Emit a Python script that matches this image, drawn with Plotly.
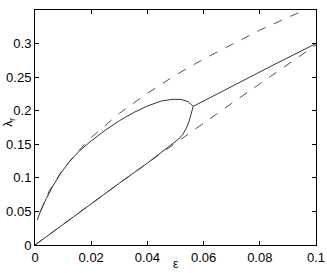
import plotly.graph_objects as go

# upper solid branch (to the junction)
up_x = [0.0008, 0.002, 0.004, 0.006, 0.009, 0.012, 0.016, 0.02, 0.025, 0.03,
        0.035, 0.04, 0.045, 0.049, 0.052, 0.0545, 0.0563]
up_y = [0.037, 0.051, 0.069, 0.085, 0.106, 0.123, 0.141, 0.155, 0.171, 0.185,
        0.197, 0.207, 0.2145, 0.217, 0.2168, 0.2135, 0.2065]

# lower solid branch (to the junction)
lo_x = [0.0, 0.01, 0.02, 0.03, 0.04, 0.043, 0.046, 0.049, 0.051, 0.0525,
        0.0538, 0.0548, 0.0556, 0.0563]
lo_y = [0.0, 0.031, 0.061, 0.092, 0.122, 0.1315, 0.141, 0.1505, 0.1575, 0.164,
        0.1735, 0.1835, 0.195, 0.2065]

# merged solid branch
mg_x = [0.0563, 0.0694, 0.085, 0.1]
mg_y = [0.2065, 0.2352, 0.2685, 0.300]

# dashed bounds
dash_up_x = [0.002, 0.005, 0.01, 0.015, 0.02, 0.03, 0.04, 0.05, 0.06, 0.07, 0.08, 0.09, 0.1]
dash_up_y = [0.0505, 0.080, 0.113, 0.138, 0.160, 0.196, 0.226, 0.253, 0.277, 0.299, 0.320, 0.339, 0.357]
dash_lo_x = [0.0, 0.01, 0.02, 0.03, 0.04, 0.05, 0.06, 0.07, 0.08, 0.09, 0.1]
dash_lo_y = [0.0, 0.031, 0.062, 0.092, 0.122, 0.152, 0.181, 0.211, 0.240, 0.269, 0.298]

fig = go.Figure()
for xs, ys in [(dash_up_x, dash_up_y), (dash_lo_x, dash_lo_y)]:
    fig.add_trace(go.Scatter(x=xs, y=ys, mode="lines",
                             line=dict(color="#555555", width=1, dash="dash")))
for xs, ys in [(up_x, up_y), (lo_x, lo_y), (mg_x, mg_y)]:
    fig.add_trace(go.Scatter(x=xs, y=ys, mode="lines",
                             line=dict(color="#333333", width=1)))

axis = dict(showline=True, linecolor="black", linewidth=1, mirror="ticks",
            ticks="inside", ticklen=4, tickcolor="black", showgrid=False,
            zeroline=False, automargin=False, tickfont=dict(size=13, color="black"))

fig.update_layout(
    width=327, height=273,
    margin=dict(l=35, r=11, t=10, b=28),
    paper_bgcolor="white", plot_bgcolor="white",
    showlegend=False,
    font=dict(family="Liberation Sans, Arial, sans-serif", color="black"),
    xaxis=dict(axis, range=[0, 0.1], tickvals=[0, 0.02, 0.04, 0.06, 0.08, 0.1],
               ticktext=["0", "0.02", "0.04", "0.06", "0.08", "0.1"]),
    yaxis=dict(axis, range=[0, 0.35], tickvals=[0, 0.05, 0.1, 0.15, 0.2, 0.25, 0.3],
               ticktext=["0", "0.05", "0.1", "0.15", "0.2", "0.25", "0.3"]),
    annotations=[
        dict(text="ε", xref="paper", yref="paper", x=0.5, y=0, yshift=-19,
             showarrow=False, font=dict(size=12), xanchor="center", yanchor="middle"),
        dict(text="λ<sub>r</sub>", xref="paper", yref="paper", x=0, y=0.52,
             xshift=-26, showarrow=False, textangle=-90, font=dict(size=12),
             xanchor="center", yanchor="middle"),
    ],
)

# drop the default page margin so the figure sits at the window's corner
fig.write_html("out.html", config={"displayModeBar": False},
               post_script="document.body.style.margin='0';")
